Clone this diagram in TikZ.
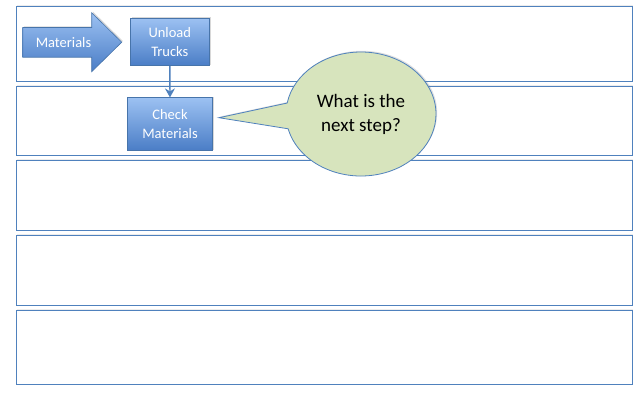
\documentclass[tikz,border=0pt]{standalone}
\usepackage{fontspec}
\setmainfont{Carlito}
\usetikzlibrary{shapes.callouts,arrows.meta,shadows}
\definecolor{laneblue}{HTML}{4F81BD}
\definecolor{boxtop}{HTML}{9CC1F2}
\definecolor{boxbot}{HTML}{4A7DC6}
\definecolor{callfill}{HTML}{D7E4BD}
\tikzset{
  lane/.style={draw=laneblue, line width=0.9pt, fill=white,
    drop shadow={opacity=0.15, shadow xshift=0.8pt, shadow yshift=0.8pt}},
  procbox/.style={draw=laneblue!90!black, line width=0.6pt, top color=boxtop, bottom color=boxbot,
    text=white, align=center, font=\fontsize{14.5}{18.5}\selectfont, inner sep=0pt,
    drop shadow={opacity=0.3, shadow xshift=1.2pt, shadow yshift=1.2pt}},
  flow/.style={draw=laneblue, line width=1.4pt, -{Stealth[length=9pt,width=10pt,inset=3pt]}},
  bubble/.style={ellipse callout, draw=laneblue, line width=0.8pt, fill=callfill,
    minimum width=150pt, minimum height=124pt, callout pointer arc=24,
    align=center, font=\fontsize{19}{24}\selectfont, text=black,
    drop shadow={opacity=0.25, shadow xshift=1.2pt, shadow yshift=1.2pt}},
  arrowtext/.style={text=white, font=\fontsize{14.5}{18.5}\selectfont}
}
\begin{document}
\begin{tikzpicture}[x=1pt,y=-1pt]
\useasboundingbox (0,0) rectangle (635,392);
% swimlanes
\draw[lane] (16,6) rectangle (632,81);
\draw[lane] (16,86) rectangle (632,155);
\draw[lane] (16,160) rectangle (632,230);
\draw[lane] (16,235) rectangle (632,305);
\draw[lane] (16,310) rectangle (632,384);
% block arrow
\shade[top color=boxtop, bottom color=boxbot, draw=laneblue!90!black, line width=0.6pt,
  drop shadow={opacity=0.3, shadow xshift=1.2pt, shadow yshift=1.2pt}]
  (22.7,27.5) -- (91.7,27.5) -- (91.7,12.7) -- (121.7,42.2) -- (91.7,71.7) -- (91.7,57.2) -- (22.7,57.2) -- cycle;
\node[arrowtext] (mat) at (63.5,43) {Materials};
% process boxes
\node[procbox, minimum width=79pt, minimum height=47.5pt] (unload) at (169.8,42) {Unload\\Trucks};
\node[procbox, minimum width=85.5pt, minimum height=53pt] (check) at (170,124.2) {Check\\Materials};
\draw[flow] (unload.south) -- (check.north);
% callout
\coordinate (tip) at (219,117.7);
\node[bubble, callout absolute pointer={(tip)}] (q) at (361,114) {What is the\\next step?};
\end{tikzpicture}
\end{document}
